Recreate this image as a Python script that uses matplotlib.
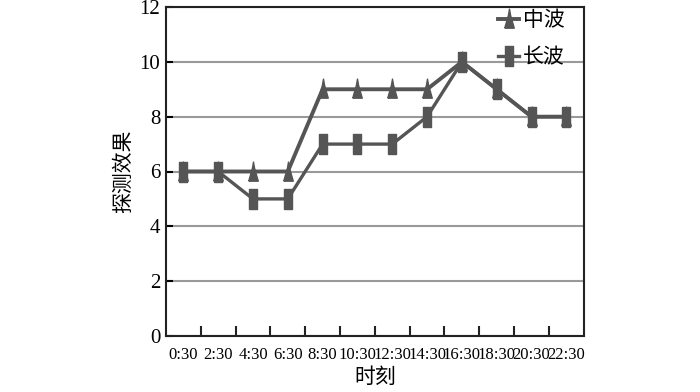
import numpy as np
import matplotlib.pyplot as plt
from matplotlib.ticker import FixedLocator

plt.rcParams['font.family'] = ['Liberation Serif', 'Noto Sans CJK SC']

times = ['0:30', '2:30', '4:30', '6:30', '8:30', '10:30', '12:30',
         '14:30', '16:30', '18:30', '20:30', '22:30']
mid_wave = [6, 6, 6, 6, 9, 9, 9, 9, 10, 9, 8, 8]
long_wave = [6, 6, 5, 5, 7, 7, 7, 8, 10, 9, 8, 8]

tri = [(-0.55, -1), (0.55, -1), (0.12, 0.5), (0, 1.2), (-0.12, 0.5), (-0.55, -1)]
bar = [(-0.45, -1), (0.45, -1), (0.45, 1), (-0.45, 1), (-0.45, -1)]

fig = plt.figure(figsize=(7, 3.92), dpi=100)
ax = fig.add_axes([0.237, 0.143, 0.597, 0.839])

x = np.arange(len(times))
ax.plot(x, mid_wave, color='#555555', lw=2.8, marker=tri, ms=15,
        label='中波', zorder=3)
ax.plot(x, long_wave, color='#555555', lw=2.4, marker=bar, ms=14,
        label='长波', zorder=3)

ax.set_xlim(-0.5, len(times) - 0.5)
ax.set_ylim(0, 12)
ax.set_yticks(range(0, 13, 2))
ax.yaxis.grid(True, color='#999999', lw=1.5)
ax.set_axisbelow(True)

ax.set_xticks(x)
ax.set_xticklabels(times, fontsize=12)
ax.tick_params(axis='x', which='major', length=0, pad=8)
ax.xaxis.set_minor_locator(FixedLocator(np.arange(0.5, len(times) - 0.5, 1)))
ax.tick_params(axis='x', which='minor', direction='in', length=7, width=1.5, color='#222222')
ax.tick_params(axis='y', direction='in', length=5, width=1.5, labelsize=15, pad=4)

for s in ax.spines.values():
    s.set_linewidth(1.5)
    s.set_color('#222222')

ax.set_xlabel('时刻', fontsize=15, family=['Noto Sans CJK SC'], labelpad=2)
ax.set_ylabel('探测效果', fontsize=15, family=['Noto Sans CJK SC'], labelpad=4)

leg = ax.legend(loc='upper right', bbox_to_anchor=(0.96, 1.0), frameon=False,
                prop={'family': 'Noto Sans CJK SC', 'size': 15},
                handlelength=1.0, handletextpad=0.2, borderaxespad=0.0,
                borderpad=0.1, labelspacing=0.75)

fig.savefig('out.png', dpi=100)
